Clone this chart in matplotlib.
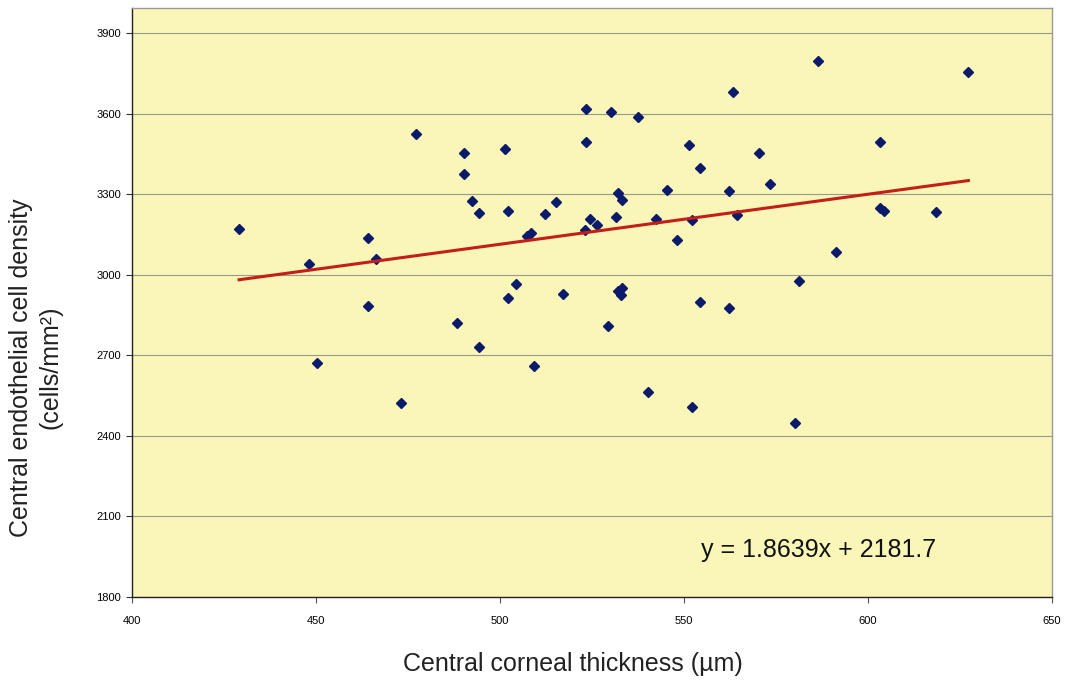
import matplotlib
matplotlib.use("Agg")
import matplotlib.pyplot as plt
import numpy as np

# Central corneal thickness (um)
cct = [429.1, 448.1, 450.2, 464.0, 466.2, 464.0, 473.2, 477.3,
       490.3, 490.3, 492.3, 494.4, 488.2, 494.3, 501.5, 502.3, 502.1, 504.3,
       507.3, 508.4, 509.2, 512.2, 515.2, 517.2, 523.4, 523.4, 523.2, 524.5,
       526.3, 529.3, 530.3, 531.4, 532.2, 533.1, 532.2, 532.8, 533.3, 537.4,
       540.1, 542.3, 545.3, 548.2, 551.5, 552.3, 552.2, 554.3, 554.3, 562.3,
       562.2, 563.3, 564.3,
       570.5, 573.4, 586.5, 581.3, 580.3, 591.3, 603.4, 603.3, 604.3, 618.5, 627.3]
# Central endothelial cell density (cells/mm2)
ecd = [3172, 3040, 2671, 3138, 3059, 2884, 2523, 3523,
       3455, 3374, 3275, 3231, 2820, 2730, 3469, 3238, 2913, 2966,
       3144, 3157, 2661, 3227, 3270, 2929, 3618, 3496, 3166, 3209,
       3187, 2811, 3608, 3216, 3304, 3279, 2941, 2926, 2950, 3586,
       2563, 3209, 3315, 3128, 3483, 3204, 2508, 3397, 2900, 3312,
       2876, 3680, 3223,
       3453, 3338, 3795, 2978, 2448, 3085, 3496, 3250, 3238, 3232, 3755]

slope = 1.8639
intercept = 2181.7
x_ticks = [400, 450, 500, 550, 600, 650]
y_ticks = [1800, 2100, 2400, 2700, 3000, 3300, 3600, 3900]

fig = plt.figure(figsize=(10.69, 6.83), dpi=100)
ax = fig.add_axes([0.1235, 0.126, 0.8605, 0.862])
ax.set_facecolor('#F9F6B8')

ax.set_xlim(400, 650)
ax.set_ylim(1800, 3993)
ax.set_xticks(x_ticks)
ax.set_yticks(y_ticks)
narrow = ['Liberation Sans Narrow', 'Liberation Sans', 'DejaVu Sans']
ax.set_xticklabels([str(v) for v in x_ticks], fontsize=8, family=narrow)
ax.set_yticklabels([str(v) for v in y_ticks], fontsize=8, family=narrow)
ax.tick_params(axis='x', length=4, pad=10, color='#555555')
ax.tick_params(axis='y', length=4, pad=4, color='#333333')

ax.yaxis.grid(True, color='#9a9a88', linewidth=0.8)
ax.set_axisbelow(True)
for s in ['top', 'right']:
    ax.spines[s].set_color('#9a9a9a')
    ax.spines[s].set_linewidth(1.0)
for s in ['left', 'bottom']:
    ax.spines[s].set_color('#222222')
    ax.spines[s].set_linewidth(1.0)

ax.plot(cct, ecd, linestyle='none', marker='D', markersize=5.3,
        color='#0B1A6A', markeredgecolor='#0B1A6A')

xl = np.array([min(cct), max(cct)])
ax.plot(xl, slope * xl + intercept, color='#C41E1A', linewidth=2.2)

ax.text(554.5, 1975, 'y = 1.8639x + 2181.7', fontsize=18, ha='left', va='center',
        family=['Liberation Sans', 'DejaVu Sans'], color='#111111')

ax.set_xlabel('Central corneal thickness (µm)', fontsize=18,
              family=['Liberation Sans', 'DejaVu Sans'], color='#222222')
ax.xaxis.set_label_coords(0.479, -0.093)
ax.xaxis.label.set_va('top')
ax.set_ylabel('Central endothelial cell density\n(cells/mm²)', fontsize=18,
              family=['Liberation Sans', 'DejaVu Sans'], color='#222222', linespacing=1.25)
ax.yaxis.set_label_coords(-0.076, 0.39)

fig.savefig('out.png', dpi=100)
